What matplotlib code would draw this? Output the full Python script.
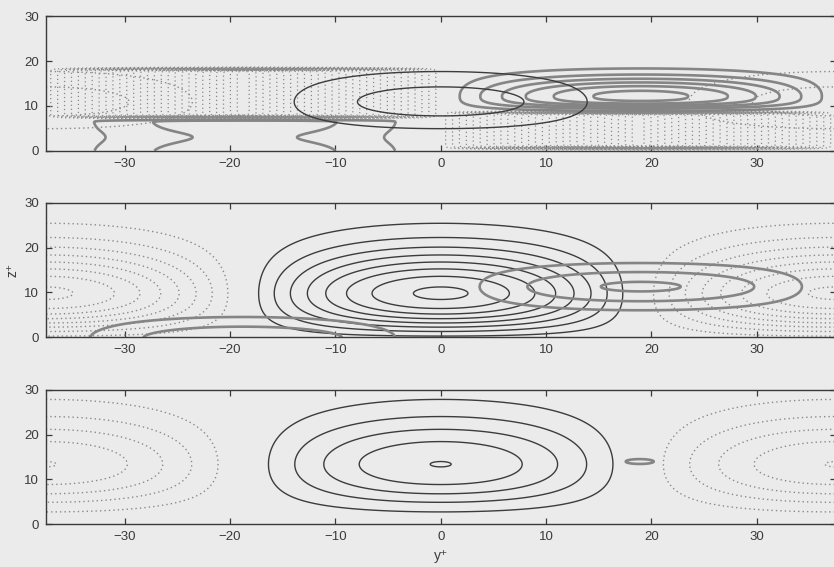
import numpy as np
import matplotlib
matplotlib.use("Agg")
import matplotlib.pyplot as plt

plt.rcParams['font.family'] = ['Liberation Sans', 'DejaVu Sans']

# ---- domain (wall units) -------------------------------------------------
y_lim = (-37.5, 37.5)
z_lim = (0.0, 30.0)
wavelength = 75.0
x_ticks = [-30, -20, -10, 0, 10, 20, 30]
z_ticks = [0, 10, 20, 30]

# ---- streak field (thin dark lines), one entry per panel -----------------
streak_amp = [0.317, 1.024, 1.0035]
streak_zpeak = [10.9, 9.8, 13.4]
streak_pow = [0.80, 0.68, 0.70]
streak_width = [3.30, 2.97, 3.24]
streak_levels = [
    [-0.25, -0.125, 0.125, 0.25],
    [-1.0, -0.875, -0.75, -0.625, -0.5, -0.375, -0.25, -0.125,
     0.125, 0.25, 0.375, 0.5, 0.625, 0.75, 0.875, 1.0],
    [-1.0, -0.8, -0.6, -0.4, -0.2, 0.2, 0.4, 0.6, 0.8, 1.0],
]

# ---- vortex field (thick grey lines) ----------------------------------------
# panel 1: raised lobe, near-wall lobe, and two negative bands
p1_upper_center = 19.0
p1_upper_zpeak = 12.2
p1_upper_top_width = 4.3
p1_upper_low_width = 2.64
p1_upper_levels = [0.13, 0.29, 0.45, 0.61, 0.77, 0.93]
p1_wall_center = -18.6
p1_wall_top = 6.8
p1_wall_dip = 0.2
p1_wall_levels = [0.357, 0.732]
p1_neg_upper = (-18.75, 7.5, 18.2)   # centre, bottom, top
p1_neg_lower = (18.75, 0.6, 8.5)
p1_neg_levels = list(np.round(np.arange(-0.97, -0.001, 0.035), 3))

# panel 2: raised lobe and near-wall lobe
p2_upper_center = 19.0
p2_upper_zpeak = 11.3
p2_upper_width = 4.7
p2_upper_levels = [0.285, 0.62, 0.95]
p2_wall_center = -18.8
p2_wall_width = 4.4
p2_wall_levels = [0.35, 0.705]

# panel 3: small isolated spot
p3_spot = (18.9, 14.0, 1.6, 0.65)   # y, z, half-width y, half-width z
p3_spot_levels = [0.5]

# ---- colours -----------------------------------------------------------
bg = '#ebebeb'
dark = '#3c3c3c'
grey = '#858585'
dotc = '#8a8a8a'
axc = '#3a3a3a'
dot_style = (0, (1, 2.2))

k = 2 * np.pi / wavelength
y = np.linspace(y_lim[0], y_lim[1], 1201)
z = np.linspace(z_lim[0], z_lim[1], 481)
Y, Z = np.meshgrid(y, z)


def sig(x):
    return 0.5 * (1 + np.tanh(x))


def half_wave(yc):
    s = (Y - yc) * k
    return np.where(np.abs(s) < np.pi / 2, np.cos(s), 0.0)


def tent(yc):
    s = np.abs(Y - yc) * k / (np.pi / 2)
    return np.clip(1 - s, 0, None)


def streak(i):
    p = streak_pow[i]
    u = Z ** p
    g = np.exp(-((u - streak_zpeak[i] ** p) / streak_width[i]) ** 2)
    return streak_amp[i] * np.cos(k * Y) * g


def draw_streak(ax, i):
    lv = streak_levels[i]
    f = streak(i)
    neg = [l for l in lv if l < 0]
    pos = [l for l in lv if l > 0]
    ax.contour(Y, Z, f, levels=neg, colors=dotc, linewidths=1.0,
               linestyles=[dot_style])
    ax.contour(Y, Z, f, levels=pos, colors=dark, linewidths=1.0,
               linestyles='-')


def thick(ax, f, levels):
    ax.contour(Y, Z, f, levels=levels, colors=grey, linewidths=1.9,
               linestyles='-')


def dotted(ax, f, levels):
    ax.contour(Y, Z, f, levels=levels, colors=dotc, linewidths=0.9,
               linestyles=[dot_style])


fig = plt.figure(figsize=(8.34, 5.67), dpi=100, facecolor=bg)
ax_left = 45.8 / 834
ax_width = 789.8 / 834
bottoms = [1 - 150.7 / 567, 1 - 337.3 / 567, 1 - 524.3 / 567]
height = 134.5 / 567
axes = [fig.add_axes([ax_left, b, ax_width, height]) for b in bottoms]

# panel 1
ax = axes[0]
zlow = np.clip(p1_upper_zpeak - Z, 0, None)
zhigh = np.clip(Z - p1_upper_zpeak, 0, None)
upper = half_wave(p1_upper_center) * np.exp(-(zlow / p1_upper_low_width) ** 3) \
    * np.exp(-(zhigh / p1_upper_top_width) ** 2)
wall = half_wave(p1_wall_center) * (1 - p1_wall_dip * np.exp(-((Z - 3) / 2.1) ** 2)) \
    * sig((p1_wall_top - Z) / 0.15)
c, b0, t0 = p1_neg_upper
neg_up = -tent(c) * sig((Z - b0) / 0.25) * sig((t0 - Z) / 0.25)
c, b0, t0 = p1_neg_lower
neg_lo = -tent(c) * sig((Z - b0) / 0.25) * sig((t0 - Z) / 0.25)
dotted(ax, neg_up, p1_neg_levels)
dotted(ax, neg_lo, p1_neg_levels)
thick(ax, upper, p1_upper_levels)
thick(ax, wall, p1_wall_levels)
draw_streak(ax, 0)

# panel 2
ax = axes[1]
draw_streak(ax, 1)
upper = half_wave(p2_upper_center) * np.exp(-((Z - p2_upper_zpeak) / p2_upper_width) ** 2)
wall = half_wave(p2_wall_center) * np.exp(-(Z / p2_wall_width) ** 1.7)
thick(ax, upper, p2_upper_levels)
thick(ax, wall, p2_wall_levels)

# panel 3
ax = axes[2]
draw_streak(ax, 2)
sy, sz, wy, wz = p3_spot
spot = np.exp(-((Y - sy) / wy) ** 2 - ((Z - sz) / wz) ** 2)
thick(ax, spot, p3_spot_levels)

for ax in axes:
    ax.set_facecolor(bg)
    ax.set_xlim(*y_lim)
    ax.set_ylim(*z_lim)
    ax.set_xticks(x_ticks)
    ax.set_yticks(z_ticks)
    ax.tick_params(direction='in', top=True, right=True, length=4,
                   width=0.9, labelsize=9.5, colors=axc, pad=5)
    for s in ax.spines.values():
        s.set_color(axc)
        s.set_linewidth(1.0)

axes[2].set_xlabel('y\u207a', fontsize=10, color=axc, labelpad=4)
axes[1].set_ylabel('z\u207a', fontsize=10, color=axc, labelpad=3)

fig.savefig('out.png', dpi=100, facecolor=bg)
